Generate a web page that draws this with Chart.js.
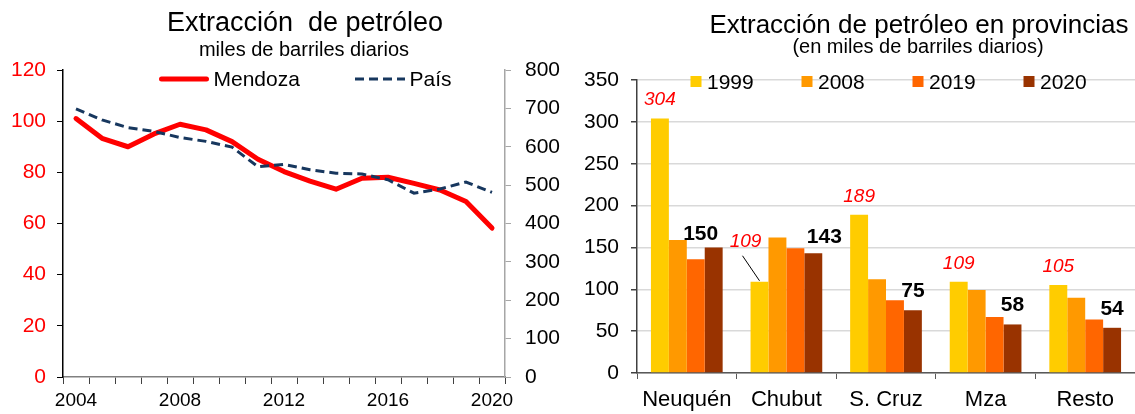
<!DOCTYPE html>
<html>
<head>
<meta charset="utf-8">
<script src="https://cdn.jsdelivr.net/npm/chart.js@4.4.1/dist/chart.umd.min.js"></script>
<style>
  html, body { margin: 0; padding: 0; background: #fff; }
  #wrap { position: relative; width: 1135px; height: 414px; overflow: hidden; }
  #left { position: absolute; left: 0; top: 0; }
  #right { position: absolute; left: 565px; top: 0; }
</style>
</head>
<body>
<div id="wrap">
  <canvas id="left" width="565" height="414"></canvas>
  <canvas id="right" width="570" height="414"></canvas>
</div>
<script>
"use strict";
// left panel: yearly extraction, Mendoza (left axis) vs country (right axis)
const YEARS = ["2004", "2005", "2006", "2007", "2008", "2009", "2010", "2011", "2012",
  "2013", "2014", "2015", "2016", "2017", "2018", "2019", "2020"];
const MENDOZA = [101, 93.3, 90, 95, 98.8, 96.6, 92, 85.1, 80.3, 76.6, 73.4, 77.7, 78.1, 75.7, 73.1, 68.6, 58.2];
const PAIS = [699, 670, 650, 640, 624, 614, 599, 548, 554, 540, 531, 529, 514, 479, 490, 508, 481];

// right panel: provinces by year
const PROVINCIAS = ["Neuquén", "Chubut", "S. Cruz", "Mza", "Resto"];
const Y1999 = [304, 109, 189, 109, 105];
const Y2008 = [159, 162, 112, 99, 90];
const Y2019 = [136, 149, 87, 67, 64];
const Y2020 = [150, 143, 75, 58, 54];

const FONT = "'Liberation Sans', Arial, sans-serif";
Chart.defaults.font.family = FONT;
Chart.defaults.color = "#000";

// titles + legend drawn on top of the plot (the original legend overlaps the plot top)
const heading = {
  id: "heading",
  afterDraw(chart, args, opts) {
    const ctx = chart.ctx;
    ctx.save();
    ctx.fillStyle = "#000";
    ctx.textBaseline = "alphabetic";
    ctx.textAlign = "center";
    for (const t of opts.lines || []) { ctx.font = t.font; ctx.fillText(t.text, t.x, t.y); }
    const lg = opts.legend;
    if (lg) {
      chart.data.datasets.forEach((ds, i) => {
        const x = lg.x + i * lg.step;
        ctx.save();
        if (lg.kind === "line") {
          ctx.strokeStyle = ds.borderColor;
          ctx.lineWidth = ds.borderWidth;
          ctx.setLineDash(ds.borderDash || []);
          ctx.lineCap = ds.borderCapStyle || "butt";
          const inset = ctx.lineCap === "round" ? ds.borderWidth / 2 : 0;
          ctx.beginPath();
          ctx.moveTo(x + inset, lg.markY);
          ctx.lineTo(x + lg.markW - inset, lg.markY);
          ctx.stroke();
        } else {
          ctx.fillStyle = ds.backgroundColor;
          ctx.fillRect(x, lg.markY - lg.markW / 2, lg.markW, lg.markW);
        }
        ctx.restore();
        ctx.font = lg.font;
        ctx.textAlign = "left";
        ctx.fillText(ds.label, x + lg.markW + lg.gap, lg.textY);
      });
    }
    ctx.restore();
  }
};

// value labels above the 1999 and 2020 bars
const barLabels = {
  id: "barLabels",
  afterDatasetsDraw(chart, args, opts) {
    const ctx = chart.ctx;
    ctx.save();
    ctx.textAlign = "center";
    ctx.textBaseline = "middle";
    for (const s of opts.sets) {
      const meta = chart.getDatasetMeta(s.dataset);
      const vals = chart.data.datasets[s.dataset].data;
      meta.data.forEach((bar, j) => {
        const n = (s.nudge && s.nudge[j]) || {};
        const x = bar.x + (n.dx || 0), y = bar.y + (n.dy != null ? n.dy : s.dy);
        ctx.font = s.font;
        ctx.fillStyle = s.color;
        ctx.fillText(String(vals[j]), x, y);
        if (n.leader) {
          ctx.strokeStyle = "#000"; ctx.lineWidth = 1;
          ctx.beginPath(); ctx.moveTo(x - 3, y + 14); ctx.lineTo(bar.x, bar.y - 1); ctx.stroke();
        }
      });
    }
    ctx.restore();
  }
};

new Chart(document.getElementById("left"), {
  type: "line",
  data: {
    labels: YEARS,
    datasets: [
      { label: "Mendoza", data: MENDOZA, yAxisID: "yL", order: 2, borderColor: "#FF0000", borderWidth: 5,
        borderCapStyle: "round", borderJoinStyle: "round", pointRadius: 0, tension: 0 },
      { label: "País", data: PAIS, yAxisID: "yR", order: 1, borderColor: "#17375E", borderWidth: 3,
        borderDash: [9, 5], pointRadius: 0, tension: 0 }
    ]
  },
  plugins: [heading],
  options: {
    responsive: false, animation: false,
    layout: { padding: { top: 70, left: 0, right: 0, bottom: 0 } },
    plugins: {
      legend: { display: false }, tooltip: { enabled: false },
      heading: {
        lines: [
          { text: "Extracción  de petróleo", font: `27px ${FONT}`, x: 305, y: 31 },
          { text: "miles de barriles diarios", font: `20px ${FONT}`, x: 304, y: 56 }
        ],
        legend: { kind: "line", x: 159, step: 196, markW: 50, markY: 79, gap: 4.5, textY: 86, font: `21px ${FONT}` }
      }
    },
    scales: {
      x: {
        offset: true,
        grid: { offset: true, drawOnChartArea: false, tickLength: 7, tickColor: "#404040" },
        border: { color: "#808080", width: 1.5 },
        ticks: { autoSkip: false, maxRotation: 0, padding: 5, color: "#000", font: { size: 19 },
          callback(v, i) { return i % 4 === 0 ? this.getLabelForValue(v) : ""; } },
        afterFit(s) { s.height = 37; }
      },
      yL: {
        position: "left", min: 0, max: 120,
        ticks: { stepSize: 20, color: "#FF0000", font: { size: 21 }, padding: 11 },
        grid: { drawOnChartArea: false, tickLength: 6, tickColor: "#000" },
        border: { color: "#000", width: 1.5 },
        afterFit(s) { s.width = 63; }
      },
      yR: {
        position: "right", min: 0, max: 800,
        ticks: { stepSize: 100, color: "#000", font: { size: 21 }, padding: 14 },
        grid: { drawOnChartArea: false, tickLength: 6, tickColor: "#a6a6a6" },
        border: { color: "#a6a6a6", width: 1.5 },
        afterFit(s) { s.width = 60; }
      }
    }
  }
});

const bar = (label, data, color) => ({ label, data, backgroundColor: color, borderWidth: 0,
  categoryPercentage: 0.72, barPercentage: 1.0 });

new Chart(document.getElementById("right"), {
  type: "bar",
  data: {
    labels: PROVINCIAS,
    datasets: [
      bar("1999", Y1999, "#FFCC00"),
      bar("2008", Y2008, "#FF9900"),
      bar("2019", Y2019, "#FF6600"),
      bar("2020", Y2020, "#993300")
    ]
  },
  plugins: [heading, barLabels],
  options: {
    responsive: false, animation: false,
    layout: { padding: { top: 80, left: 0, right: 0, bottom: 0 } },
    plugins: {
      legend: { display: false }, tooltip: { enabled: false },
      heading: {
        lines: [
          { text: "Extracción de petróleo en provincias", font: `26px ${FONT}`, x: 354, y: 33 },
          { text: "(en miles de barriles diarios)", font: `20px ${FONT}`, x: 353, y: 53 }
        ],
        legend: { kind: "box", x: 125.5, step: 111, markW: 11, markY: 81.5, gap: 5.5, textY: 89, font: `21px ${FONT}` }
      },
      barLabels: {
        sets: [
          { dataset: 0, font: `italic 19px ${FONT}`, color: "#FF0000", dy: -18.5,
            nudge: { 1: { dx: -14, dy: -40, leader: true } } },
          { dataset: 3, font: `bold 21px ${FONT}`, color: "#000", dy: -19,
            nudge: { 0: { dx: -13, dy: -13 }, 1: { dx: 11, dy: -16 } } }
        ]
      }
    },
    scales: {
      x: {
        offset: true,
        grid: { offset: true, drawOnChartArea: false, tickLength: 6, tickColor: "#595959" },
        border: { color: "#595959", width: 1.5 },
        ticks: { autoSkip: false, maxRotation: 0, padding: 8, color: "#000", font: { size: 22 } },
        afterFit(s) { s.height = 41; }
      },
      y: {
        min: 0, max: 350,
        ticks: { stepSize: 50, color: "#000", font: { size: 21 }, padding: 12 },
        grid: { color: "#d9d9d9", lineWidth: 1.5, tickLength: 6, tickColor: "#404040" },
        border: { color: "#404040", width: 1.5 },
        afterFit(s) { s.width = 72; }
      }
    }
  }
});
</script>
</body>
</html>
